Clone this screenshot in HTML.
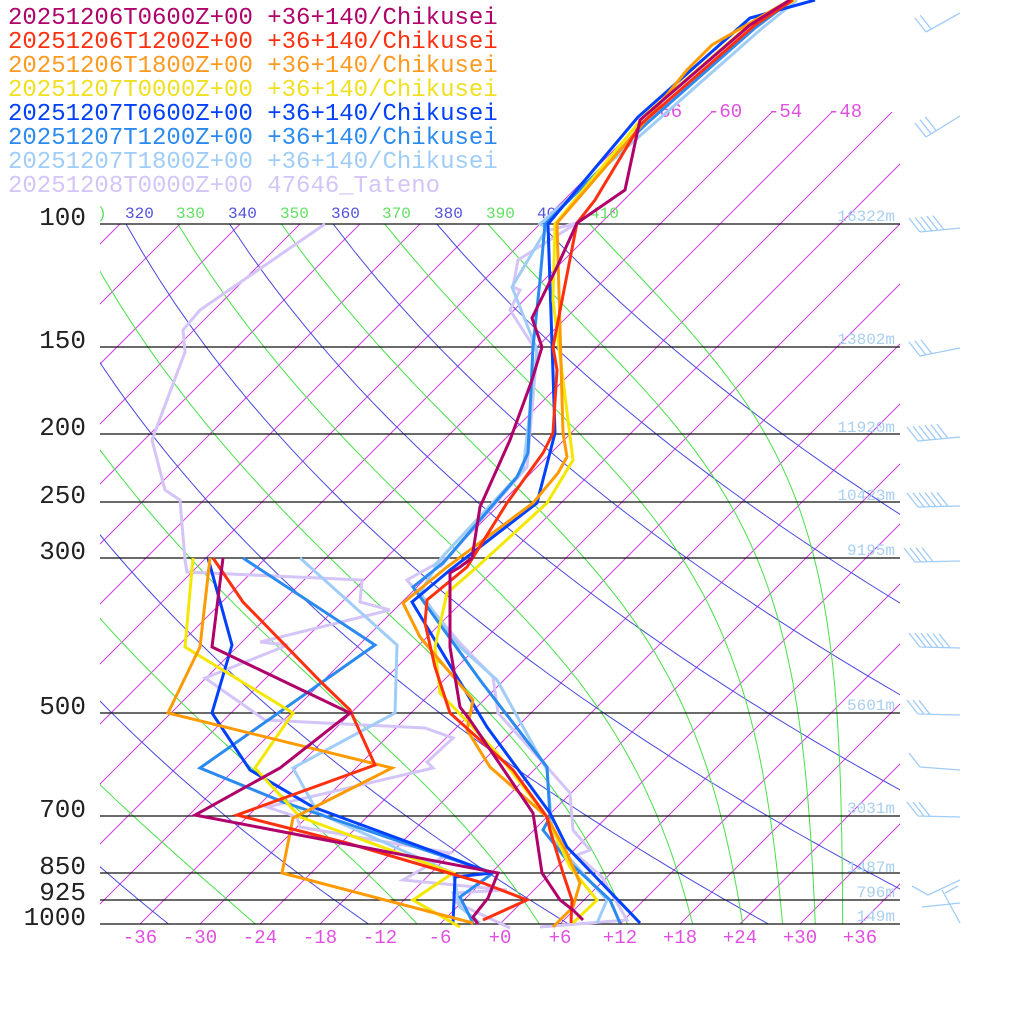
<!DOCTYPE html>
<html><head><meta charset="utf-8"><style>
html,body{margin:0;padding:0;background:#fff;width:1024px;height:1024px;overflow:hidden}
svg{display:block}
.leg{font-family:"Liberation Mono",monospace;font-size:24px}
.pl{font-family:"Liberation Mono",monospace;font-size:26px;fill:#222}
.th{font-family:"Liberation Mono",monospace;font-size:16px}
.bt{font-family:"Liberation Mono",monospace;font-size:19px;fill:#e050e0}
.hl{font-family:"Liberation Mono",monospace;font-size:16px;fill:#a8cff0}
polyline.d{fill:none;stroke-width:3;stroke-linejoin:miter}
</style></head><body>
<svg id="s" width="1024" height="1024" viewBox="0 0 1024 1024" xmlns="http://www.w3.org/2000/svg">
<defs><clipPath id="c"><rect x="100" y="224" width="800" height="700"/></clipPath>
<clipPath id="c2"><rect x="100" y="112" width="800" height="812"/></clipPath></defs>
<g id="bg"></g>
<g stroke="#111" stroke-width="1.3">
<line x1="100" y1="224" x2="900" y2="224"/><line x1="100" y1="347" x2="900" y2="347"/>
<line x1="100" y1="434" x2="900" y2="434"/><line x1="100" y1="502" x2="900" y2="502"/>
<line x1="100" y1="558" x2="900" y2="558"/><line x1="100" y1="713" x2="900" y2="713"/>
<line x1="100" y1="816" x2="900" y2="816"/><line x1="100" y1="873" x2="900" y2="873"/>
<line x1="100" y1="900" x2="900" y2="900"/><line x1="100" y1="924" x2="900" y2="924"/>
</g>
<g class="pl" text-anchor="end">
<text x="86" y="225">100</text><text x="86" y="348">150</text><text x="86" y="435">200</text>
<text x="86" y="503">250</text><text x="86" y="559">300</text><text x="86" y="714">500</text>
<text x="86" y="817">700</text><text x="86" y="874">850</text><text x="86" y="900">925</text>
<text x="86" y="925">1000</text></g>
<g class="th">
<text x="97" y="218" fill="#60e060">)</text><text x="125" y="218" fill="#5050e0">320</text>
<text x="176" y="218" fill="#60e060">330</text><text x="228" y="218" fill="#5050e0">340</text>
<text x="280" y="218" fill="#60e060">350</text><text x="331" y="218" fill="#5050e0">360</text>
<text x="382" y="218" fill="#60e060">370</text><text x="434" y="218" fill="#5050e0">380</text>
<text x="486" y="218" fill="#60e060">390</text><text x="537" y="218" fill="#5050e0">40</text>
<text x="590" y="218" fill="#60e060">410</text></g>
<g class="bt" id="bt"></g>
<g class="bt"><text x="648" y="117">-66</text><text x="708" y="117">-60</text><text x="768" y="117">-54</text><text x="828" y="117">-48</text></g>
<g class="hl" text-anchor="end">
<text x="895" y="221">16322m</text><text x="895" y="344">13802m</text><text x="895" y="432">11920m</text>
<text x="895" y="500">10423m</text><text x="895" y="555">9195m</text><text x="895" y="710">5601m</text>
<text x="895" y="813">3031m</text><text x="895" y="872">1487m</text><text x="895" y="897">796m</text>
<text x="895" y="921">149m</text></g>
<g id="barbs" stroke="#a0ccf8" stroke-width="1.3" fill="none"></g>

<polyline class="d" stroke="#d4c4f8" points="325,224 200,310 183,330 185,352 152,440 165,490 180,500 185,560 187,572 362,580 360,602 390,610 260,642 288,645 205,678 265,720 425,728 453,738 427,762 433,768 267,807 297,817 300,827 450,853 403,880 507,890 453,893 457,903 510,928"/>
<polyline class="d" stroke="#a0ccf8" points="300,558 397,645 395,713 293,768 318,813 453,873 460,907 480,923"/>
<polyline class="d" stroke="#2a8af0" points="243,558 375,645 200,768 283,802 493,873 460,897 473,923"/>
<polyline class="d" stroke="#0040ff" points="208,558 232,645 212,713 250,770 313,807 492,873 455,877 453,923"/>
<polyline class="d" stroke="#f5e800" points="193,558 185,647 293,713 255,768 300,817 453,873 413,900 460,927"/>
<polyline class="d" stroke="#ff9a00" points="210,558 200,647 168,713 392,768 293,818 282,873 473,923"/>
<polyline class="d" stroke="#ff3010" points="213,558 243,602 322,683 350,710 375,765 237,815 347,843 483,883 527,900 483,920"/>
<polyline class="d" stroke="#b0006a" points="223,558 212,647 350,713 280,768 195,815 498,873 488,898 473,917 478,924"/>

<polyline class="d" stroke="#d4c4f8" points="550,230 577,223 518,260 513,287 520,290 510,310 537,352 527,467 440,567 443,560 407,580 460,643 493,677 498,713 547,767 570,793 573,830 590,850 577,855 602,877 627,920 540,927"/>
<polyline class="d" stroke="#a0ccf8" points="797,0 760,30 650,127 540,224 547,228 512,287 537,350 523,470 433,567 440,560 420,593 460,647 497,680 547,770 553,840 607,900 597,923"/>
<polyline class="d" stroke="#2a8af0" points="792,0 755,28 645,125 545,224 540,280 533,347 528,453 517,477 443,563 413,587 480,680 547,767 550,817 543,830 567,860 610,900 620,923"/>
<polyline class="d" stroke="#0040ff" points="815,0 750,18 638,117 548,224 555,433 537,503 450,570 412,602 487,727 550,813 567,847 640,923"/>
<polyline class="d" stroke="#f5e800" points="795,0 755,20 645,115 555,224 553,300 573,460 547,503 477,567 447,593 435,647 440,693 497,753 547,817 570,867 597,900 573,923"/>
<polyline class="d" stroke="#ff9a00" points="790,0 712,45 687,70 657,107 640,127 557,223 563,433 567,457 558,473 533,503 447,567 403,603 420,637 473,700 467,730 490,767 547,817 567,853 580,883 573,907 553,927"/>
<polyline class="d" stroke="#ff3010" points="793,0 755,25 640,125 595,200 577,223 553,347 557,370 553,433 543,453 507,503 467,567 427,600 425,623 435,667 450,713 480,740 513,770 547,817 550,830 563,873 572,900 571,923"/>
<polyline class="d" stroke="#b0006a" points="790,0 750,25 640,120 625,190 577,223 557,267 532,318 542,347 532,380 510,440 480,507 472,558 460,567 450,573 450,647 460,707 470,720 533,813 542,873 560,900 573,910 583,920"/>

<g class="leg">
<text x="8" y="24" fill="#b0006a">20251206T0600Z+00 +36+140/Chikusei</text>
<text x="8" y="48" fill="#ff3010">20251206T1200Z+00 +36+140/Chikusei</text>
<text x="8" y="72" fill="#ff9a20">20251206T1800Z+00 +36+140/Chikusei</text>
<text x="8" y="96" fill="#f0e020">20251207T0000Z+00 +36+140/Chikusei</text>
<text x="8" y="120" fill="#0040ff">20251207T0600Z+00 +36+140/Chikusei</text>
<text x="8" y="144" fill="#2a8af0">20251207T1200Z+00 +36+140/Chikusei</text>
<text x="8" y="168" fill="#a0ccf8">20251207T1800Z+00 +36+140/Chikusei</text>
<text x="8" y="192" fill="#d4c4f8">20251208T0000Z+00 47646_Tateno</text>
</g>
</svg>
<script>
(function(){
var NS="http://www.w3.org/2000/svg";
var bg=document.getElementById("bg");
function Y(p){return 924-Math.log(1000/p)/Math.LN10*700;}
function X(t,y){return 500+10*t+(924-y);}
function line(pts,col,clip){var e=document.createElementNS(NS,"polyline");
 e.setAttribute("points",pts.map(function(a){return a[0].toFixed(1)+","+a[1].toFixed(1)}).join(" "));
 e.setAttribute("fill","none");e.setAttribute("stroke",col);e.setAttribute("stroke-width","1");
 e.setAttribute("clip-path","url(#"+clip+")");bg.appendChild(e);}
for(var T=-150;T<=40;T+=6){
 var y1=924,y2=(T>=-66)?112:224;
 line([[X(T,y1),y1],[X(T,y2),y2]],"#d040e0",(T>=-66)?"c2":"c");
}
for(var th=200;th<=400;th+=20){var pts=[];
 for(var p=100;p<=1000;p+=10){var tk=th*Math.pow(p/1000,0.2857);var y=Y(p);pts.push([X(tk-273.15,y),y]);}
 line(pts,"#4848e0","c");}
function es(tk){var tc=tk-273.15;return 6.112*Math.exp(17.67*tc/(tc+243.5));}
function the(tk,p){var e=es(tk);if(e>p*0.5)return 1e9;var r=0.622*e/(p-e);return tk*Math.pow(1000/p,0.2857)*Math.exp(2.5e6*r/(1004*tk));}
for(var te=190;te<=410;te+=20){var pts=[];
 for(var p=100;p<=1000;p+=10){var lo=120,hi=340;
  for(var i=0;i<60;i++){var m=(lo+hi)/2;if(the(m,p)>te)hi=m;else lo=m;}
  var y=Y(p);pts.push([X(lo-273.15,y),y]);}
 line(pts,"#48e048","c");}
var bt=document.getElementById("bt");
for(var t=-36;t<=36;t+=6){var e=document.createElementNS(NS,"text");
 e.setAttribute("x",500+10*t);e.setAttribute("y",943);e.setAttribute("text-anchor","middle");
 e.textContent=(t>=0?"+":"")+t;bb=null;bt.appendChild(e);}
var bb=document.getElementById("barbs");
function barb(x1,y1,x2,y2,n){var d="M"+x1+","+y1+"L"+x2+","+y2;
 var dx=(x1-x2),dy=(y1-y2),L=Math.sqrt(dx*dx+dy*dy);dx/=L;dy/=L;
 for(var i=0;i<n;i++){var px=x2+dx*(i*6),py=y2+dy*(i*6);d+="M"+px.toFixed(1)+","+py.toFixed(1)+"l-11,-14";}
 var e=document.createElementNS(NS,"path");e.setAttribute("d",d);bb.appendChild(e);}
barb(960,13,926,32,2);barb(960,116,926,137,3);barb(960,228,920,232,5);barb(960,348,920,356,3);
barb(960,437,918,441,6);barb(960,506,918,507,6);barb(960,561,915,562,4);barb(960,648,920,647,6);
barb(960,715,918,714,3);barb(960,770,920,767,1);barb(960,817,918,816,3);
var e=document.createElementNS(NS,"path");
e.setAttribute("d","M960,880L928,895L912,886M960,903L922,907M942,890L960,923M945,893L958,886");
bb.appendChild(e);
})();
</script>
</body></html>
